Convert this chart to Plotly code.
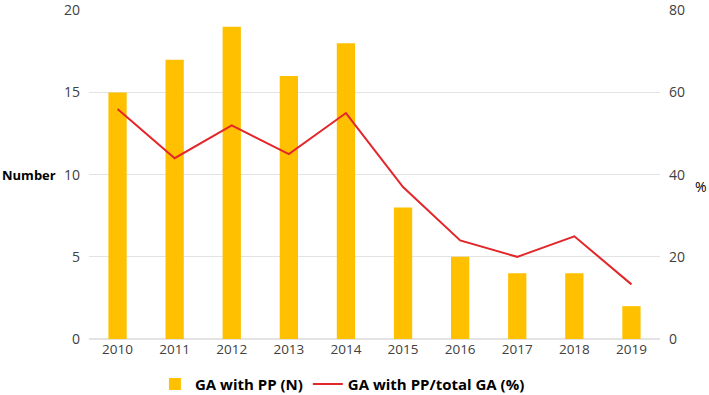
import plotly.graph_objects as go

years = ["2010", "2011", "2012", "2013", "2014", "2015", "2016", "2017", "2018", "2019"]
ga_with_pp = [15, 17, 19, 16, 18, 8, 5, 4, 4, 2]
pct_of_total = [56, 44, 52, 45, 55, 37, 24, 20, 25, 13.3]

fig = go.Figure()
fig.add_trace(go.Bar(x=years, y=ga_with_pp, name="GA with PP (N)",
                     marker=dict(color="#FFC000", line=dict(width=0)), yaxis="y"))
fig.add_trace(go.Scatter(x=years, y=pct_of_total, name="GA with PP/total GA (%)",
                         mode="lines", line=dict(color="#E3262A", width=2), yaxis="y2"))

font = "Open Sans, Liberation Sans, sans-serif"
fig.update_layout(
    width=709, height=395,
    margin=dict(l=89, r=49, t=10, b=56, autoexpand=False),
    plot_bgcolor="white", paper_bgcolor="white",
    font=dict(family=font, size=13, color="#404040"),
    bargap=0.68,
    xaxis=dict(showgrid=False, showline=False, ticks="", automargin=False,
               tickfont=dict(size=13.5, color="#404040")),
    yaxis=dict(range=[0, 20.02], tickvals=[0, 5, 10, 15, 20], showgrid=True,
               gridcolor="#E3E3E3", gridwidth=1, ticklabeloverflow="allow",
               zeroline=True, zerolinecolor="#E3E3E3", showline=False, ticks="",
               automargin=False, ticklabelstandoff=8, tickfont=dict(size=14, color="#404040")),
    yaxis2=dict(range=[0, 80.08], tickvals=[0, 20, 40, 60, 80], overlaying="y", side="right",
                showgrid=False, zeroline=False, showline=False, ticks="", automargin=False,
                ticklabeloverflow="allow",
                ticklabelstandoff=8, tickfont=dict(size=14, color="#404040")),
    showlegend=True,
    legend=dict(orientation="h", x=0.483, xref="container", xanchor="center",
                y=0.027, yref="container", yanchor="middle",
                font=dict(size=15, color="#000000", family=font, weight="bold"), itemwidth=30,
                traceorder="normal"),
    annotations=[
        dict(text="<b>Number</b>", x=-89 / 571, xref="paper", xanchor="left",
             y=10, yref="y", yanchor="middle", showarrow=False,
             font=dict(size=13, color="#000000")),
        dict(text="%", x=1, xref="paper", xanchor="left", xshift=33,
             y=37, yref="y2", yanchor="middle", showarrow=False,
             font=dict(size=14, color="#000000")),
    ],
)
fig.write_html("out.html", config={"displayModeBar": False},
               post_script="document.body.style.margin='0';")
